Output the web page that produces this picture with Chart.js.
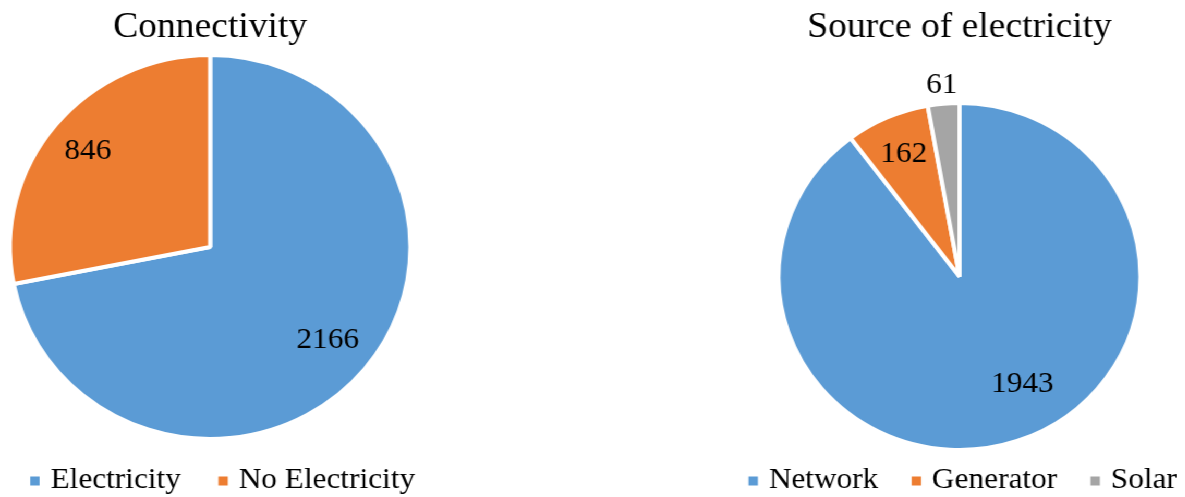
<!DOCTYPE html>
<html>
<head>
<meta charset="utf-8">
<title>Connectivity and source of electricity</title>
<script src="https://cdn.jsdelivr.net/npm/chart.js@4.4.1/dist/chart.umd.min.js"></script>
<style>
  html, body { margin: 0; padding: 0; background: #ffffff; overflow: hidden; }
  #stage {
    position: absolute; left: 0; top: 0;
    width: 1136px; height: 497px;
    transform: scaleX(1.043); transform-origin: 0 0;
  }
  #stage canvas { position: absolute; top: 0; }
  #connectivity { left: 0px; }
  #source { left: 709.5px; }
</style>
</head>
<body>
<div id="stage">
  <canvas id="connectivity" width="403" height="497"></canvas>
  <canvas id="source" width="420" height="497"></canvas>
</div>
<script>
// Households by grid connection
const connectivityLabels = ['Electricity', 'No Electricity'];
const connectivityValues = [2166, 846];

// Connected households by supply type
const sourceLabels = ['Network', 'Generator', 'Solar'];
const sourceValues = [1943, 162, 61];

const FONT = "'Liberation Serif', 'Times New Roman', Times, serif";
const PALETTE = ['#5B9BD5', '#ED7D31', '#A5A5A5'];

Chart.defaults.font.family = FONT;
Chart.defaults.color = '#000000';

// Writes each slice's value at a chosen fraction of the radius along its mid-angle
const sliceLabels = {
  id: 'sliceLabels',
  afterDatasetsDraw(chart, args, opts) {
    const ctx = chart.ctx;
    const values = chart.data.datasets[0].data;
    const meta = chart.getDatasetMeta(0);
    ctx.save();
    ctx.font = opts.size + 'px ' + FONT;
    ctx.fillStyle = opts.color;
    ctx.textAlign = 'center';
    ctx.textBaseline = 'middle';
    meta.data.forEach((arc, i) => {
      const p = arc.getProps(['x', 'y', 'startAngle', 'endAngle', 'outerRadius'], true);
      const turn = (opts.turn && opts.turn[i]) || 0;
      const a = (p.startAngle + p.endAngle) / 2 + turn * Math.PI / 180;
      const r = p.outerRadius * opts.radius[i];
      ctx.fillText(String(values[i]), p.x + Math.cos(a) * r, p.y + Math.sin(a) * r);
    });
    ctx.restore();
  }
};

// Row of small square swatches with category names under the pie
const swatchLegend = {
  id: 'swatchLegend',
  afterDraw(chart, args, opts) {
    const ctx = chart.ctx;
    const labels = chart.data.labels;
    const colors = chart.data.datasets[0].backgroundColor;
    ctx.save();
    ctx.font = opts.size + 'px ' + FONT;
    ctx.textBaseline = 'alphabetic';
    ctx.textAlign = 'left';
    const widths = labels.map(t => opts.box + opts.gap + ctx.measureText(t).width);
    const total = widths.reduce((s, w) => s + w, 0) + opts.itemGap * (labels.length - 1);
    let x = chart.width / 2 - total / 2 + (opts.offsetX || 0);
    labels.forEach((t, i) => {
      ctx.fillStyle = colors[i];
      ctx.fillRect(x, opts.baseline - 11.5, opts.box, opts.box);
      ctx.fillStyle = opts.color;
      ctx.fillText(t, x + opts.box + opts.gap, opts.baseline);
      x += widths[i] + opts.itemGap;
    });
    ctx.restore();
  }
};

function pieChart(id, labels, values, cfg) {
  return new Chart(document.getElementById(id), {
    type: 'pie',
    data: {
      labels: labels,
      datasets: [{
        data: values,
        backgroundColor: PALETTE.slice(0, values.length),
        borderColor: '#ffffff',
        borderWidth: 4
      }]
    },
    options: {
      responsive: false,
      animation: false,
      devicePixelRatio: 1,
      layout: { padding: { top: 0, left: 0, right: 0, bottom: cfg.bottomSpace } },
      plugins: {
        legend: { display: false },
        tooltip: { enabled: false },
        title: {
          display: true,
          text: cfg.title,
          color: '#000000',
          font: { family: FONT, size: 36, weight: 'normal' },
          padding: { top: 6, bottom: cfg.titleGap }
        },
        sliceLabels: { size: 30, color: '#000000', radius: cfg.labelRadius, turn: cfg.labelTurn },
        swatchLegend: {
          size: 30, color: '#000000', box: 9, gap: 10.5,
          itemGap: cfg.itemGap, baseline: 488, offsetX: cfg.legendShift
        }
      }
    },
    plugins: [sliceLabels, swatchLegend]
  });
}

pieChart('connectivity', connectivityLabels, connectivityValues, {
  title: 'Connectivity',
  titleGap: 3.8,
  bottomSpace: 56,
  labelRadius: [0.76, 0.79],
  labelTurn: [0, 0],
  itemGap: 36,
  legendShift: 12
});

pieChart('source', sourceLabels, sourceValues, {
  title: 'Source of electricity',
  titleGap: 51.8,
  bottomSpace: 45,
  labelRadius: [0.71, 0.77, 1.11],
  labelTurn: [-10.8, 0, 0],
  itemGap: 32,
  legendShift: 3
});
</script>
</body>
</html>
